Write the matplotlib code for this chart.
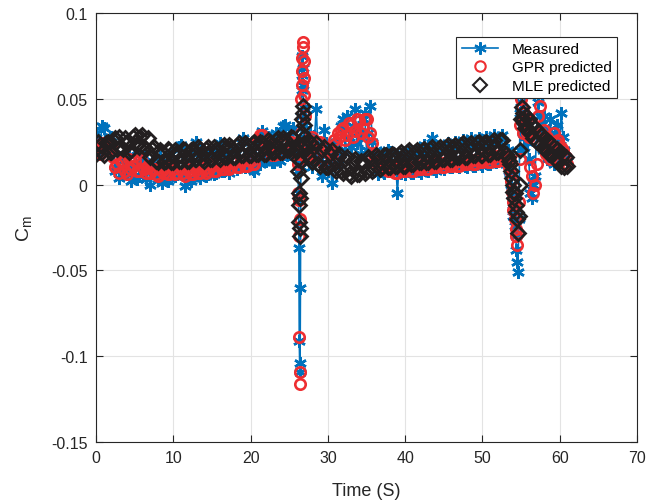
import numpy as np
import matplotlib.pyplot as plt

plt.rcParams['font.family'] = ['Liberation Sans', 'DejaVu Sans']

# pitch moment coefficient, stored in units of 1e-3

# segment A: 0 .. 26 s, every 0.25 s (four samples per row)
meas_a = [30, 24, 20, 34,  33, 22, 19, 28,  28, 18, 8, 12,  4, 16, 14, 7,
          6, 17, 2, 10,  12, 3, 5, 18,  15, 8, 3, 12,  0, 14, 9, 5,
          3, 16, 1, 10,  11, 2, 4, 18,  15, 5, 6, 22,  23, 8, -1, 12,
          8, 2, 4, 20,  25, 9, 4, 17,  13, 5, 6, 19,  18, 6, 7, 21,
          24, 8, 8, 16,  16, 7, 9, 22,  20, 9, 10, 25,  27, 10, 11, 19,
          18, 9, 8, 26,  24, 12, 31, 15,  14, 28, 27, 13,  13, 30, 29, 14,
          16, 34, 35, 17,  18, 31, 33, 20,  22]
gpr_a = [22, 19, 18, 24,  24, 20, 20, 23,  22, 16, 10, 12,  7, 14, 13, 8,
         6, 15, 9, 11,  14, 8, 8, 15,  13, 9, 7, 11,  7, 9, 9, 6,
         5, 10, 8, 7,  10, 6, 6, 11,  9, 6, 7, 11,  11, 7, 5, 9,
         8, 6, 6, 11,  11, 7, 7, 10,  9, 7, 8, 12,  11, 8, 8, 12,
         12, 9, 9, 11,  12, 9, 10, 13,  13, 10, 10, 14,  14, 11, 11, 15,
         14, 12, 12, 18,  26, 29, 29, 22,  18, 24, 21, 17,  17, 23, 22, 18,
         19, 26, 25, 20,  20, 25, 24, 21,  18]
mle_a = [18, 25, 23, 19,  17, 24, 25, 19,  19, 26, 27, 21,  28, 22, 21, 27,
         25, 19, 20, 28,  29, 23, 22, 28,  29, 22, 21, 27,  16, 21, 22, 14,
         13, 20, 19, 13,  14, 21, 20, 13,  13, 20, 19, 14,  14, 21, 20, 14,
         14, 20, 21, 15,  15, 22, 21, 15,  14, 21, 22, 15,  15, 22, 21, 16,
         15, 22, 23, 16,  16, 23, 22, 16,  16, 23, 24, 17,  17, 24, 23, 17,
         17, 24, 25, 18,  18, 25, 24, 18,  18, 26, 25, 19,  19, 26, 27, 19,
         19, 27, 26, 20,  20, 28, 27, 20,  20]

# first gust: 26.05 .. 27.0 s, every 0.05 s
meas_s1 = [20, 15, 8, -5, -37, -91, -104, -109, -60, 10, 40, 55, 64, 75, 68, 58, 45, 35, 28, 22]
gpr_s1 = [18, 12, -5, -9, -30, -89, -109, -116, -20, 30, 50, 58, 66, 74, 83, 80, 72, 62, 52, 40]
mle_s1 = [20, 15, 8, -5, -12, -22, -30, -25, -8, 4, 14, 22, 30, 38, 46, 42, 35, 28, 24, 20]

# segment B: 27.25 .. 53.5 s, every 0.25 s
meas_b = [26, 14, 30,
          10, 26, 44, 18,  15, 5, 32, 24,  8, 18, 1, 22,  25, 16, 12, 34,
          38, 20, 40, 28,  22, 34, 44, 24,  30, 18, 38, 42,  20, 30, 46, 25,
          14, 20, 6, 12,  18, 7, 10, 20,  19, 8, 9, 14,  -5, 16, 7, 18,
          6, 15, 20, 7,  7, 18, 21, 8,  7, 20, 23, 9,  8, 22, 27, 9,
          8, 20, 22, 10,  9, 21, 24, 10,  10, 22, 25, 11,  10, 23, 26, 11,
          10, 24, 27, 11,  11, 24, 27, 12,  11, 25, 28, 12,  12, 26, 29, 13,
          14, 27, 29, 15,
          12, 20, 8]
gpr_b = [24, 18, 26,
         28, 16, 18, 24,  25, 14, 16, 22,  22, 12, 18, 26,  24, 30, 28, 32,
         33, 26, 29, 36,  35, 28, 31, 38,  37, 30, 33, 38,  38, 28, 30, 24,
         17, 13, 12, 10,  9, 12, 11, 8,  8, 11, 10, 7,  7, 10, 9, 8,
         8, 11, 10, 8,  8, 11, 10, 9,  9, 12, 11, 9,  9, 12, 11, 10,
         10, 13, 12, 10,  10, 13, 12, 11,  11, 14, 13, 11,  11, 14, 13, 12,
         12, 15, 14, 12,  12, 15, 14, 13,  13, 16, 15, 13,  13, 17, 16, 14,
         14, 17, 17, 15,
         14, 16, 10]
mle_b = [22, 16, 25,
         13, 22, 24, 12,  11, 20, 22, 10,  10, 18, 20, 9,  8, 16, 18, 8,
         7, 15, 16, 6,  5, 14, 15, 6,  6, 14, 13, 7,  8, 16, 15, 8,
         9, 17, 16, 9,  10, 17, 17, 10,  10, 18, 17, 11,  11, 18, 19, 11,
         11, 19, 20, 12,  12, 19, 20, 13,  13, 20, 21, 13,  13, 21, 22, 14,
         14, 21, 22, 15,  15, 22, 23, 15,  15, 22, 23, 16,  16, 23, 24, 16,
         16, 23, 24, 17,  17, 24, 25, 17,  17, 24, 25, 18,  18, 25, 26, 19,
         19, 26, 26, 19,
         18, 16, 14]

# second gust: 53.6 .. 55.5 s, every 0.1 s
meas_s2 = [6, 0, -6, -12, -18, -15, -24, -30, -38, -45, -51, -20, 20, 42, 48, 40, 30, 36, 22, 28]
gpr_s2 = [8, 2, -4, -10, -15, -12, -20, -26, -30, -35, -28, -10, 15, 35, 50, 45, 38, 30, 42, 35]
mle_s2 = [12, 8, 4, 0, -4, -8, -5, -12, -16, -20, -28, -18, 0, 20, 38, 45, 42, 38, 36, 33]

# tail: 55.6 .. 61.0 s, every 0.2 s
meas_c = [30, 25, 15, -5, -8, 0, 5, 30, 48, 40, 35, 20, 40, 25, 15, 32, 38, 20, 12, 30,
          35, 18, 26, 42, 28, 20, 16, 14]
gpr_c = [38, 30, 28, 10, 5, -5, 0, 12, 40, 46, 30, 22, 32, 18, 28, 24, 15, 22, 30, 18,
         24, 26, 14, 22, 20, 12, 16, 12]
mle_c = [40, 33, 38, 30, 35, 27, 33, 25, 31, 23, 29, 22, 27, 20, 26, 18, 24, 17, 22, 15,
         21, 13, 19, 11, 17, 10, 16, 11]

# (start time, step) of each segment
segments = [(0.0, 0.25), (26.05, 0.05), (27.25, 0.25), (53.6, 0.1), (55.6, 0.2)]


def join(parts):
    t, v = [], []
    for (t0, dt), p in zip(segments, parts):
        t.append(t0 + dt * np.arange(len(p)))
        v.append(np.array(p, dtype=float) / 1000)
    return np.concatenate(t), np.concatenate(v)


t, measured = join([meas_a, meas_s1, meas_b, meas_s2, meas_c])
_, gpr = join([gpr_a, gpr_s1, gpr_b, gpr_s2, gpr_c])
_, mle = join([mle_a, mle_s1, mle_b, mle_s2, mle_c])

blue = '#0072BD'
red = '#EE2E31'
dark = '#231F20'
asterisk = (6, 2, 0)

fig = plt.figure(figsize=(6.51, 5.02), dpi=100)
ax = fig.add_axes([0.1475, 0.1175, 0.831, 0.8545])

ax.plot(t, measured, '-', marker=asterisk, color=blue, lw=1.2, ms=9, mew=1.8, label='Measured')
ax.plot(t, gpr, 'o', color=red, mfc='none', ms=7.5, mew=1.9, ls='none', label='GPR predicted')
ax.plot(t, mle, 'D', color=dark, mfc='none', ms=7, mew=2.0, ls='none', label='MLE predicted')

ax.set_xlim(0, 70)
ax.set_ylim(-0.15, 0.1)
ax.set_xticks(range(0, 71, 10))
yt = [-0.15, -0.1, -0.05, 0, 0.05, 0.1]
ax.set_yticks(yt)
ax.set_yticklabels(['-0.15', '-0.1', '-0.05', '0', '0.05', '0.1'])
ax.grid(True, color='#e3e3e3', lw=0.8)
ax.set_axisbelow(True)
ax.tick_params(direction='in', top=True, right=True, labelsize=11.5, length=5, width=0.8,
               color='#262626', labelcolor='#262626', pad=6)
for s in ax.spines.values():
    s.set_color('#262626')
    s.set_linewidth(0.8)

ax.set_xlabel('Time (S)', fontsize=13, labelpad=12, color='#262626')
ax.set_ylabel('C$_\\mathregular{m}$', fontsize=14, labelpad=12, color='#262626')

leg = ax.legend(loc='upper right', bbox_to_anchor=(0.978, 0.963), fontsize=11, fancybox=False,
                edgecolor='#262626', framealpha=1, borderpad=0.35, handlelength=2.4,
                handletextpad=0.9, labelspacing=0.3)
leg.get_frame().set_linewidth(0.8)
for h in leg.legend_handles:
    h.set_markeredgewidth(1.5)

fig.savefig('out.png', dpi=100)
